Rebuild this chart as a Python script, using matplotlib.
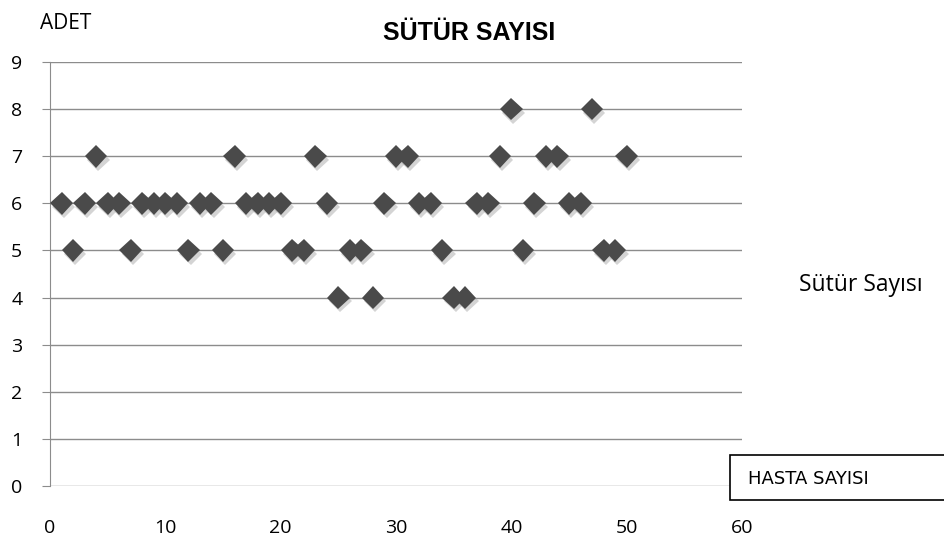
import matplotlib
matplotlib.use("Agg")
import matplotlib.pyplot as plt
import matplotlib.patheffects as pe
from matplotlib.patches import Rectangle

# hasta no (x) ve sutur sayisi (y)
hasta = list(range(1, 51))
sutur = [6, 5, 6, 7, 6, 6, 5, 6, 6, 6,
         6, 5, 6, 6, 5, 7, 6, 6, 6, 6,
         5, 5, 7, 6, 4, 5, 5, 4, 6, 7,
         7, 6, 6, 5, 4, 4, 6, 6, 7, 8,
         5, 6, 7, 7, 6, 6, 8, 5, 5, 7]

x_ticks = [0, 10, 20, 30, 40, 50, 60]
y_ticks = list(range(0, 10))

fig = plt.figure(figsize=(9.44, 5.42), dpi=100)
ax = fig.add_axes([0.053, 0.1033, 0.733, 0.7823])

ax.plot(hasta, sutur, linestyle="none", marker="D", ms=11.5,
        color="#4a4a4a", markeredgewidth=0,
        path_effects=[pe.SimplePatchShadow(offset=(1.5, -2.5), shadow_rgbFace="#a0a0a0", alpha=0.45),
                      pe.Normal()],
        zorder=3)

ax.set_xlim(0, 60)
ax.set_ylim(0, 9)
ax.set_xticks(x_ticks)
ax.set_yticks(y_ticks)
ax.grid(axis="y", color="#8c8c8c", linewidth=1)
ax.set_axisbelow(True)
for s in ["top", "right", "bottom"]:
    ax.spines[s].set_visible(False)
ax.spines["left"].set_color("#8c8c8c")
ax.tick_params(axis="y", length=6, color="#8c8c8c", pad=14, labelsize=14)
ax.tick_params(axis="x", length=0, pad=24, labelsize=14)
for lab in ax.get_xticklabels() + ax.get_yticklabels():
    lab.set_family("Open Sans")

fig.text(0.042, 0.957, "ADET", fontsize=15, family="Open Sans", ha="left", va="center")
fig.text(0.497, 0.94, "SÜTÜR SAYISI", fontsize=18, fontweight="bold",
         family="Liberation Sans", ha="center", va="center")
fig.text(0.846, 0.475, "Sütür Sayısı", fontsize=16.5, family="Open Sans", ha="left", va="center")

# kutu (kismen kirpilmis)
fig.patches.append(Rectangle((0.773, 0.0775), 0.3, 0.083, transform=fig.transFigure,
                             facecolor="white", edgecolor="black", linewidth=1.2))
fig.text(0.792, 0.117, "HASTA SAYISI", fontsize=13, family="DejaVu Sans", ha="left", va="center")

fig.savefig("out.png", dpi=100)
